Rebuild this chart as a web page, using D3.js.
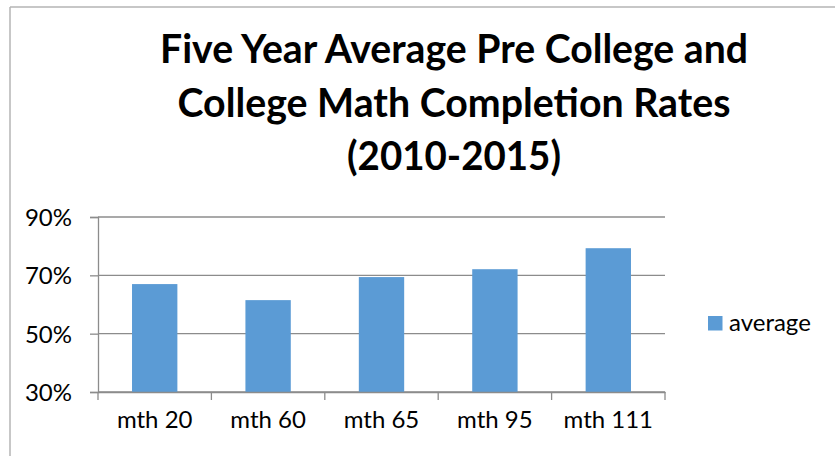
<!DOCTYPE html>
<html>
<head>
<meta charset="utf-8">
<script src="https://cdn.jsdelivr.net/npm/d3@7"></script>
<style>
  html, body { margin: 0; padding: 0; background: #fff; }
  svg { display: block; }
</style>
</head>
<body>
<div id="plot"></div>
<script>
const w = 835;
const h = 456;
const margin = { top: 217, right: 170, bottom: 64, left: 98 };
const innerWidth = w - margin.left - margin.right;
const innerHeight = h - margin.top - margin.bottom;

// data
const courses = ["mth 20", "mth 60", "mth 65", "mth 95", "mth 111"];
const averages = [0.670, 0.615, 0.694, 0.721, 0.793];
const yTicks = [0.3, 0.5, 0.7, 0.9];
const titleLines = ["Five Year Average Pre College and", "College Math Completion Rates", "(2010-2015)"];
const seriesName = "average";

const barColor = "#5b9bd5";
const gridColor = "#8c8c8c";
const font = "Lato, 'Open Sans', sans-serif";

const svg = d3.select("div#plot")
  .append("svg")
  .attr("width", w)
  .attr("height", h)
  .attr("font-family", font);

// chart frame (only left and top edges are visible)
svg.append("line")
  .attr("x1", 10).attr("y1", 7).attr("x2", 10).attr("y2", h)
  .attr("stroke", "#b4b4b4")
  .attr("stroke-width", 1.5);
svg.append("line")
  .attr("x1", 10).attr("y1", 7).attr("x2", w).attr("y2", 7)
  .attr("stroke", "#b4b4b4")
  .attr("stroke-width", 1.5);

// title
const titleWidths = [588, 553, 214];
svg.append("g")
  .selectAll("text")
  .data(titleLines)
  .enter()
  .append("text")
  .attr("x", 454)
  .attr("y", (d, i) => 63 + i * 53.5)
  .attr("text-anchor", "middle")
  .attr("font-size", 40)
  .attr("font-weight", "bold")
  .attr("fill", "#000")
  .attr("textLength", (d, i) => titleWidths[i])
  .attr("lengthAdjust", "spacingAndGlyphs")
  .text(d => d);

const xScale = d3.scaleBand()
  .domain(courses)
  .range([0, innerWidth])
  .paddingInner(0.6)
  .paddingOuter(0.3);

const yScale = d3.scaleLinear()
  .domain([0.3, 0.9])
  .range([innerHeight, 0]);

const plotGroup = svg.append("g")
  .attr("transform", `translate(${margin.left}, ${margin.top})`);

// gridlines
plotGroup.append("g")
  .selectAll("line")
  .data(yTicks)
  .enter()
  .append("line")
  .attr("x1", 0)
  .attr("x2", innerWidth)
  .attr("y1", d => yScale(d))
  .attr("y2", d => yScale(d))
  .attr("stroke", gridColor)
  .attr("stroke-width", 1.3);

// bars
plotGroup.selectAll("rect.bar")
  .data(courses)
  .enter()
  .append("rect")
  .attr("class", "bar")
  .attr("x", d => xScale(d))
  .attr("width", xScale.bandwidth())
  .attr("y", (d, i) => yScale(averages[i]))
  .attr("height", (d, i) => innerHeight - yScale(averages[i]))
  .attr("fill", barColor);

// y axis
const yAxis = d3.axisLeft(yScale)
  .tickValues(yTicks)
  .tickSize(8)
  .tickPadding(18)
  .tickFormat(d3.format(".0%"));

const yG = plotGroup.append("g").call(yAxis);
yG.attr("font-family", font).attr("font-size", 24);
yG.select(".domain").attr("stroke", gridColor).attr("stroke-width", 1.3);
yG.selectAll(".tick line").attr("stroke", gridColor).attr("stroke-width", 1.3);
yG.selectAll(".tick text").attr("dy", "0.36em");

// x axis: labels centered, ticks on category boundaries
const xAxis = d3.axisBottom(xScale).tickSize(0);
const xG = plotGroup.append("g")
  .attr("transform", `translate(0, ${innerHeight})`)
  .call(xAxis);
xG.attr("font-family", font).attr("font-size", 24);
xG.select(".domain").attr("stroke", gridColor).attr("stroke-width", 1.3);
xG.selectAll(".tick text")
  .attr("y", 36)
  .attr("dy", 0);

const step = xScale.step();
xG.selectAll("line.boundary")
  .data(d3.range(courses.length + 1))
  .enter()
  .append("line")
  .attr("class", "boundary")
  .attr("x1", i => i * step)
  .attr("x2", i => i * step)
  .attr("y1", 0)
  .attr("y2", 8)
  .attr("stroke", gridColor)
  .attr("stroke-width", 1.3);

// legend
svg.append("rect")
  .attr("x", 708)
  .attr("y", 316)
  .attr("width", 14.5)
  .attr("height", 14.5)
  .attr("fill", barColor);

svg.append("text")
  .attr("x", 729)
  .attr("y", 330.5)
  .attr("font-size", 24)
  .attr("fill", "#000")
  .text(seriesName);
</script>
</body>
</html>
